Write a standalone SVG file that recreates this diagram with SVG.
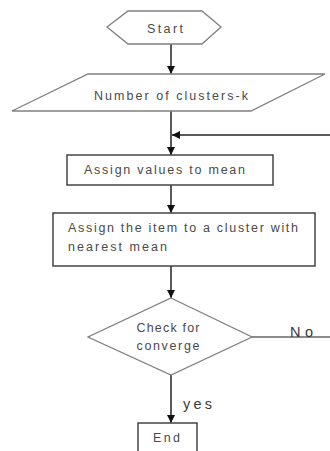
<svg xmlns="http://www.w3.org/2000/svg" width="330" height="451" viewBox="0 0 330 451">
<defs>
<marker id="arr" viewBox="0 0 10 10" refX="10" refY="5" markerWidth="8" markerHeight="8" markerUnits="userSpaceOnUse" orient="auto">
<path d="M0,0 L10,5 L0,10 Z" fill="#111"/>
</marker>
<style>
.sh{fill:#fff;stroke:#808080;stroke-width:1.3}
.bx{fill:#fff;stroke:#444;stroke-width:1.5}
.ln{fill:none;stroke:#222;stroke-width:1.5}
.t{font-family:"Liberation Sans",Arial,sans-serif;font-size:12.5px;fill:#4a4a4a}
.l{font-family:"Liberation Sans",Arial,sans-serif;font-size:14.5px;fill:#3a3a3a}
</style>
</defs>
<rect width="330" height="451" fill="#fff"/>
<g id="connectors">
<line class="ln" x1="171" y1="44" x2="171" y2="74" marker-end="url(#arr)"/>
<line class="ln" x1="171" y1="111" x2="171" y2="155" marker-end="url(#arr)"/>
<line class="ln" x1="330" y1="135" x2="172" y2="135" marker-end="url(#arr)"/>
<line class="ln" x1="171" y1="185" x2="171" y2="213" marker-end="url(#arr)"/>
<line class="ln" x1="171" y1="266" x2="171" y2="298" marker-end="url(#arr)"/>
<line class="ln" x1="252" y1="337" x2="330" y2="337" style="stroke:#666"/>
<line class="ln" x1="171" y1="375" x2="171" y2="423" marker-end="url(#arr)"/>
<text class="l" x="290" y="337" textLength="23">No</text>
<text class="l" x="183" y="409" textLength="29">yes</text>
</g>
<g id="start">
<polygon class="sh" points="128,11 202,11 221,27 202,44 128,44 107,27"/>
<text class="t" x="165" y="33" text-anchor="middle" textLength="36">Start</text>
</g>
<g id="input">
<polygon class="sh" points="88,74 325,74 251,111 12,111"/>
<text class="t" x="94" y="100" textLength="154">Number of clusters-k</text>
</g>
<g id="assign-mean">
<rect class="bx" x="67" y="155" width="206" height="30"/>
<text class="t" x="84" y="174" textLength="161">Assign values to mean</text>
</g>
<g id="assign-item">
<rect class="bx" x="53" y="213" width="262" height="53"/>
<text class="t" x="68" y="232" textLength="230">Assign the item to a cluster with</text>
<text class="t" x="68" y="251" textLength="99">nearest mean</text>
</g>
<g id="check">
<polygon class="sh" points="171,298 252,337 171,375 88,337"/>
<text class="t" x="168" y="332" text-anchor="middle" textLength="63">Check for</text>
<text class="t" x="168" y="350" text-anchor="middle" textLength="63">converge</text>
</g>
<g id="end">
<rect class="bx" x="138" y="423" width="59" height="40"/>
<text class="t" x="153" y="442" textLength="27">End</text>
</g>
</svg>
